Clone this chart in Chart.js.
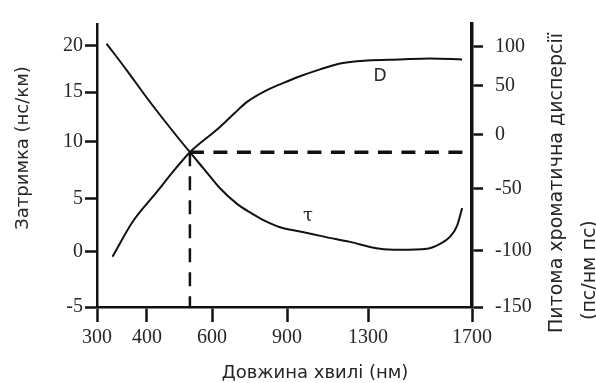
<!DOCTYPE html>
<html>
<head>
<meta charset="utf-8">
<script src="https://cdn.jsdelivr.net/npm/chart.js@4.4.1/dist/chart.umd.min.js"></script>
<style>
  html, body { margin: 0; padding: 0; background: #fff; }
  #wrap { width: 596px; height: 383px; }
</style>
</head>
<body>
<div id="wrap"><canvas id="c" width="596" height="383"></canvas></div>
<script>
// wavelength (nm) / delay tau (ns/km)
var tauWavelength = [319, 360, 400, 471, 532, 578, 632, 700, 752, 812, 872, 964, 1088, 1211, 1346, 1423, 1527, 1577, 1615, 1642, 1662];
var tauDelay = [20.2, 17.3, 14.4, 11.4, 9.07, 7.5, 5.9, 4.5, 3.7, 2.9, 2.3, 1.9, 1.4, 0.93, 0.28, 0.19, 0.28, 0.74, 1.4, 2.4, 4.1];
// wavelength (nm) / dispersion D (ps/nm ps)
var dWavelength = [331, 372, 431, 477, 532, 620, 692, 740, 812, 915, 964, 1063, 1162, 1295, 1423, 1538, 1662];
var dDispersion = [-105.2, -76.2, -52.4, -35.4, -16.2, 5.3, 22.3, 33.3, 44.3, 56.8, 61.9, 70.9, 78.6, 82.4, 83.7, 85.0, 83.7];
// crossing point
var crossWavelength = 532;
var crossDelay = 9.07;

var xTicks = [300, 400, 600, 900, 1300, 1700];
var leftTicks = [-5, 0, 5, 10, 15, 20];
var rightTicks = [-150, -100, -50, 0, 50, 100];

var xTitle = 'Довжина хвилі (нм)';
var leftTitle = 'Затримка (нс/км)';
var rightTitle1 = 'Питома хроматична дисперсії';
var rightTitle2 = '(пс/нм пс)';

// the original axes are not evenly spaced: piecewise linear scale
function warp(v, vals, fr) {
    var i = 0;
    while (i < vals.length - 2 && v > vals[i + 1]) i++;
    return fr[i] + (v - vals[i]) * (fr[i + 1] - fr[i]) / (vals[i + 1] - vals[i]);
}
function unwarp(f, vals, fr) {
    var i = 0;
    while (i < fr.length - 2 && f > fr[i + 1]) i++;
    return vals[i] + (f - fr[i]) * (vals[i + 1] - vals[i]) / (fr[i + 1] - fr[i]);
}

class WarpScale extends Chart.LinearScale {
    getPixelForValue(value) {
        if (value === null || value === undefined) return NaN;
        return this.getPixelForDecimal(warp(value, this.options.anchors, this.options.fractions));
    }
    getValueForPixel(pixel) {
        return unwarp(this.getDecimalForPixel(pixel), this.options.anchors, this.options.fractions);
    }
}
WarpScale.id = 'warp';
WarpScale.defaults = Chart.LinearScale.defaults;
Chart.register(WarpScale);

var ink = '#111';
var textInk = '#262626';

function pts(xs, ys) {
    return xs.map(function (x, i) { return { x: x, y: ys[i] }; });
}

var textPlugin = {
    id: 'texts',
    afterDraw: function (chart) {
        var ctx = chart.ctx;
        var x = chart.scales.x, yL = chart.scales.yL, yR = chart.scales.yR;
        ctx.save();
        ctx.fillStyle = textInk;
        ctx.font = '18px "DejaVu Sans"';
        ctx.textAlign = 'center';
        ctx.textBaseline = 'middle';
        ctx.fillText(xTitle, 315, 373);

        ctx.font = '17px "DejaVu Sans"';
        ctx.fillText('D', x.getPixelForValue(1346), yR.getPixelForValue(62));
        ctx.font = '18px "DejaVu Serif"';
        ctx.fillText('τ', x.getPixelForValue(1004), yL.getPixelForValue(3.3));

        ctx.font = '18px "DejaVu Sans"';
        ctx.save();
        ctx.translate(23, 148);
        ctx.rotate(-Math.PI / 2);
        ctx.fillText(leftTitle, 0, 0);
        ctx.restore();

        ctx.font = '19px "DejaVu Sans"';
        ctx.textAlign = 'left';
        ctx.save();
        ctx.translate(557, 333);
        ctx.rotate(-Math.PI / 2);
        ctx.fillText(rightTitle1, 0, 0);
        ctx.restore();
        ctx.save();
        ctx.translate(590, 320);
        ctx.rotate(-Math.PI / 2);
        ctx.fillText(rightTitle2, 0, 0);
        ctx.restore();
        ctx.restore();
    }
};

var ctx = document.getElementById('c').getContext('2d');
var chart = new Chart(ctx, {
    type: 'line',
    data: {
        datasets: [{
            data: pts(tauWavelength, tauDelay),
            yAxisID: 'yL',
            borderColor: ink,
            borderWidth: 2,
            pointRadius: 0,
            cubicInterpolationMode: 'monotone'
        }, {
            data: pts(dWavelength, dDispersion),
            yAxisID: 'yR',
            borderColor: ink,
            borderWidth: 2,
            pointRadius: 0,
            cubicInterpolationMode: 'monotone'
        }, {
            data: [{ x: crossWavelength, y: crossDelay }, { x: xTicks[xTicks.length - 1], y: crossDelay }],
            yAxisID: 'yL',
            borderColor: ink,
            borderWidth: 3.5,
            borderDash: [14, 9.5],
            pointRadius: 0
        }, {
            data: [{ x: crossWavelength, y: crossDelay }, { x: crossWavelength, y: leftTicks[0] }],
            yAxisID: 'yL',
            borderColor: ink,
            borderWidth: 2.5,
            borderDash: [14, 10],
            pointRadius: 0
        }]
    },
    options: {
        responsive: false,
        animation: false,
        layout: { padding: { top: 20, left: 0, right: 0, bottom: 0 } },
        plugins: { legend: { display: false }, tooltip: { enabled: false } },
        scales: {
            x: {
                type: 'warp',
                position: 'bottom',
                min: 300,
                max: 1700,
                anchors: xTicks,
                fractions: [0, 0.1333, 0.3067, 0.5067, 0.7227, 1],
                afterBuildTicks: function (s) { s.ticks = xTicks.map(function (v) { return { value: v }; }); },
                afterFit: function (s) { s.height = 76; },
                grid: { drawOnChartArea: false, drawTicks: true, tickLength: 15, tickWidth: 2.5, tickColor: ink },
                border: { display: true, width: 2.5, color: ink },
                ticks: {
                    autoSkip: false, maxRotation: 0, padding: 4, color: textInk,
                    font: { family: '"Liberation Serif"', size: 20 },
                    callback: function (v) { return String(v); }
                }
            },
            yL: {
                type: 'warp',
                position: 'left',
                min: -5,
                max: 22.3,
                anchors: leftTicks,
                fractions: [0, 0.1951, 0.3833, 0.5843, 0.7596, 0.9244],
                afterBuildTicks: function (s) { s.ticks = leftTicks.map(function (v) { return { value: v }; }); },
                afterFit: function (s) { s.width = 97; },
                grid: { drawOnChartArea: false, drawTicks: true, tickLength: 12, tickWidth: 2.5, tickColor: ink },
                border: { display: true, width: 2.5, color: ink },
                ticks: {
                    autoSkip: false, padding: 2, color: textInk,
                    font: { family: '"Liberation Serif"', size: 20 },
                    callback: function (v) { return String(v); }
                }
            },
            yR: {
                type: 'warp',
                position: 'right',
                min: -150,
                max: 130,
                anchors: rightTicks,
                fractions: [0, 0.1986, 0.4181, 0.6087, 0.7829, 0.9188],
                afterBuildTicks: function (s) { s.ticks = rightTicks.map(function (v) { return { value: v }; }); },
                afterFit: function (s) { s.width = 124; },
                grid: { drawOnChartArea: false, drawTicks: true, tickLength: 11, tickWidth: 2.5, tickColor: ink },
                border: { display: true, width: 3.5, color: ink },
                ticks: {
                    autoSkip: false, padding: 12, color: textInk,
                    font: { family: '"Liberation Serif"', size: 20 },
                    callback: function (v) { return String(v); }
                }
            }
        }
    },
    plugins: [textPlugin]
});
</script>
</body>
</html>
